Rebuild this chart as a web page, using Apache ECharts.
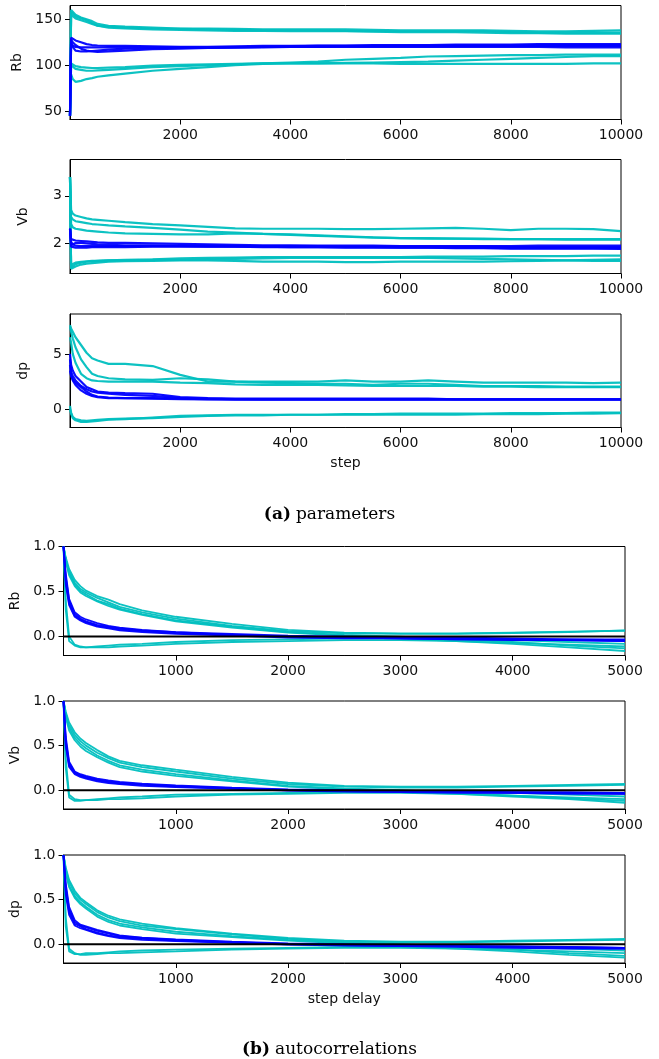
<!DOCTYPE html>
<html>
<head>
<meta charset="utf-8">
<script src="https://cdn.jsdelivr.net/npm/echarts@6/dist/echarts.min.js"></script>
<style>
html,body{margin:0;padding:0;background:#fff;}
#chart{width:659px;height:1059px;}
</style>
</head>
<body>
<div id="chart"></div>
<script>
// ---------- trace panels (a) ----------
const steps = [0,20,50,100,200,300,400,500,700,1000,1500,2000,2500,3000,3500,4000,4500,5000,5500,6000,6500,7000,7500,8000,8500,9000,9500,10000];
const stepTicks = [2000,4000,6000,8000,10000];

const rbCyan = [
  [45,160,158,155,152,150,148,145,143,142,141,140,140,139.5,139,139,139,139,138.5,138,138,138,138,137.5,137,137,137.5,138],
  [45,158,156,153,151,149,146,143,142,141,140,139.5,139,138.5,138,138,138,137.5,137,137,137,137,137,136,135.5,135.5,135.5,135.5],
  [45,155,153,151,149,147,145,143,141,140,139,138.5,138,137.5,137.5,137,137,137,136.5,136,136,136,135.5,135,135,134.5,134.5,134.5],
  [45,90,85,82,83,85,86,87.5,89,91,94,96,98,100,101.5,102,102,102,102,101.5,101.5,101.5,101.5,101.5,101.5,101.5,102,102],
  [45,100,98,96,95,94,94,94.5,95,96,98,99,100,101,102,103,104,106,107,108,109.5,110,110.5,111,111,111.5,111.5,111.5],
  [45,102,100,99,98,97.5,97,97,97.5,98,99.5,100.5,101,101.5,102,102,102,102.5,103,103.5,104,105,106,107,108,109,110,110]
];
const rbBlue = [
  [45,130,129,127,125,123,122,121.5,121,121,120.5,120,120,120.5,121,121,121.5,121.5,122,122,122,122.5,122.5,122.5,123,123,123,123],
  [45,128,125,122,118,116,115,114.5,115,116,117.5,118,119,119.5,120,120.5,121,121,121,121,121.5,121.5,121.5,121.5,122,122,122,122],
  [45,126,120,116,115,115,115.5,116,117,118,118.5,119,119,119.5,120,120,120,120.5,120.5,120.5,120.5,121,121,121,121,121,121,121],
  [45,122,121,120,119.5,119.5,119.5,119.5,119.5,119.5,119.5,119.5,119.5,119.5,119.5,120,120,120,120,120,120,120,120,120,120,119.5,119.5,119.5]
];

const vbCyan = [
  [3.4,2.7,2.62,2.58,2.55,2.52,2.5,2.49,2.47,2.44,2.4,2.37,2.34,2.31,2.3,2.3,2.3,2.29,2.29,2.3,2.31,2.32,2.3,2.27,2.3,2.3,2.29,2.25],
  [3.4,2.55,2.5,2.46,2.44,2.42,2.4,2.39,2.37,2.35,2.32,2.28,2.24,2.22,2.19,2.17,2.15,2.13,2.11,2.1,2.09,2.09,2.08,2.08,2.08,2.08,2.08,2.08],
  [3.4,2.4,2.33,2.3,2.28,2.26,2.25,2.24,2.22,2.2,2.19,2.18,2.18,2.2,2.19,2.18,2.16,2.14,2.12,2.1,2.1,2.09,2.09,2.08,2.08,2.07,2.07,2.07],
  [3.4,1.47,1.5,1.55,1.58,1.6,1.61,1.62,1.63,1.64,1.65,1.67,1.68,1.69,1.7,1.7,1.7,1.7,1.7,1.7,1.71,1.71,1.71,1.72,1.72,1.72,1.73,1.73],
  [3.4,1.45,1.47,1.5,1.54,1.56,1.57,1.58,1.6,1.61,1.62,1.63,1.63,1.62,1.6,1.6,1.6,1.59,1.59,1.6,1.6,1.6,1.6,1.61,1.62,1.63,1.64,1.65],
  [3.4,1.5,1.55,1.58,1.6,1.61,1.62,1.62,1.63,1.63,1.64,1.64,1.65,1.66,1.67,1.68,1.68,1.68,1.68,1.68,1.68,1.67,1.66,1.65,1.64,1.63,1.62,1.62]
];
const vbBlue = [
  [2.3,2.08,2.06,2.05,2.04,2.03,2.02,2.01,2.0,2.0,1.99,1.98,1.97,1.96,1.95,1.95,1.94,1.94,1.94,1.93,1.93,1.93,1.93,1.93,1.94,1.94,1.94,1.94],
  [2.3,1.95,1.98,2.0,2.0,1.99,1.98,1.97,1.96,1.95,1.95,1.94,1.94,1.93,1.93,1.93,1.93,1.92,1.92,1.92,1.92,1.92,1.92,1.91,1.91,1.91,1.91,1.91],
  [2.3,2.02,1.97,1.94,1.93,1.93,1.93,1.93,1.93,1.93,1.93,1.93,1.92,1.92,1.92,1.91,1.91,1.91,1.91,1.9,1.9,1.9,1.9,1.89,1.89,1.89,1.89,1.89],
  [2.3,1.92,1.91,1.9,1.9,1.9,1.91,1.91,1.91,1.91,1.92,1.92,1.92,1.92,1.91,1.91,1.91,1.9,1.9,1.9,1.9,1.89,1.89,1.88,1.88,1.88,1.88,1.87]
];

const dpCyan = [
  [7.6,7.3,7.0,6.5,5.8,5.1,4.6,4.4,4.1,4.1,3.9,3.1,2.5,2.5,2.5,2.5,2.5,2.6,2.5,2.5,2.6,2.5,2.4,2.4,2.4,2.4,2.35,2.4],
  [7.4,7.0,6.4,5.6,4.5,3.8,3.2,3.0,2.8,2.7,2.65,2.8,2.7,2.5,2.4,2.35,2.3,2.3,2.2,2.3,2.3,2.2,2.1,2.1,2.1,2.05,2.05,2.05],
  [6.5,6.0,5.0,4.2,3.2,2.8,2.6,2.55,2.5,2.5,2.5,2.4,2.35,2.25,2.2,2.2,2.2,2.15,2.1,2.1,2.1,2.1,2.05,2.05,2.0,2.0,2.0,2.0],
  [0.3,-0.3,-0.7,-0.9,-1.0,-1.05,-1.0,-0.95,-0.9,-0.85,-0.8,-0.7,-0.6,-0.55,-0.55,-0.5,-0.5,-0.5,-0.5,-0.5,-0.5,-0.5,-0.45,-0.45,-0.45,-0.4,-0.4,-0.35],
  [0.0,-0.4,-0.8,-1.0,-1.15,-1.15,-1.1,-1.05,-0.95,-0.9,-0.75,-0.6,-0.55,-0.5,-0.5,-0.5,-0.5,-0.45,-0.45,-0.4,-0.4,-0.4,-0.4,-0.35,-0.35,-0.35,-0.3,-0.3]
];
const dpBlue = [
  [5.0,4.0,3.5,3.0,2.5,2.0,1.8,1.6,1.5,1.45,1.4,1.1,1.0,0.95,0.95,0.95,0.95,0.95,0.95,0.95,0.95,0.9,0.9,0.9,0.9,0.9,0.9,0.9],
  [4.5,3.4,3.0,2.6,2.1,1.8,1.6,1.5,1.4,1.3,1.2,1.0,0.95,0.9,0.9,0.9,0.9,0.9,0.9,0.9,0.9,0.9,0.9,0.9,0.9,0.9,0.9,0.9],
  [4.0,3.1,2.6,2.2,1.7,1.4,1.2,1.1,1.0,1.0,1.0,0.95,0.9,0.9,0.88,0.88,0.88,0.88,0.88,0.88,0.88,0.88,0.88,0.88,0.88,0.88,0.88,0.88],
  [3.5,3.0,2.7,2.4,2.0,1.6,1.3,1.15,1.05,1.0,0.95,0.9,0.88,0.87,0.87,0.86,0.86,0.86,0.86,0.86,0.86,0.86,0.86,0.86,0.86,0.86,0.86,0.86]
];

// ---------- autocorrelation panels (b) ----------
const lags = [0,20,50,100,150,200,300,400,500,700,1000,1500,2000,2500,3000,3500,4000,4500,5000];
const lagTicks = [1000,2000,3000,4000,5000];
const acfTicks = [0.0,0.5,1.0];
const zeroLevel = [0,0];

const rbAcfCyan = [
  [1.0,0.88,0.75,0.63,0.56,0.51,0.45,0.41,0.36,0.29,0.22,0.14,0.075,0.045,0.035,0.035,0.045,0.055,0.065],
  [1.0,0.86,0.72,0.6,0.53,0.49,0.43,0.38,0.33,0.27,0.2,0.12,0.06,0.035,0.03,0.03,0.04,0.05,0.07],
  [1.0,0.85,0.7,0.58,0.51,0.47,0.4,0.36,0.31,0.25,0.18,0.11,0.05,0.02,0.0,-0.03,-0.06,-0.1,-0.13],
  [1.0,0.84,0.68,0.56,0.49,0.45,0.39,0.34,0.3,0.24,0.17,0.1,0.045,0.01,-0.02,-0.05,-0.08,-0.12,-0.16],
  [1.0,0.4,0.0,-0.09,-0.11,-0.12,-0.12,-0.12,-0.11,-0.1,-0.08,-0.06,-0.05,-0.04,-0.04,-0.05,-0.07,-0.09,-0.11],
  [1.0,0.3,-0.05,-0.1,-0.12,-0.12,-0.11,-0.1,-0.09,-0.08,-0.06,-0.04,-0.03,-0.02,-0.02,-0.03,-0.04,-0.06,-0.08]
];
const rbAcfBlue = [
  [1.0,0.7,0.42,0.27,0.22,0.19,0.15,0.12,0.1,0.075,0.05,0.03,0.01,0.0,-0.01,-0.01,-0.02,-0.03,-0.04],
  [1.0,0.66,0.4,0.25,0.2,0.17,0.13,0.11,0.09,0.07,0.05,0.02,0.0,-0.01,-0.02,-0.02,-0.03,-0.03,-0.03],
  [1.0,0.62,0.37,0.23,0.19,0.16,0.12,0.1,0.08,0.06,0.04,0.02,0.0,-0.01,-0.02,-0.03,-0.03,-0.04,-0.05],
  [1.0,0.58,0.35,0.22,0.18,0.15,0.11,0.09,0.07,0.05,0.03,0.01,-0.01,-0.02,-0.02,-0.03,-0.04,-0.04,-0.05]
];

const vbAcfCyan = [
  [1.0,0.88,0.76,0.65,0.58,0.53,0.45,0.38,0.33,0.28,0.23,0.15,0.085,0.05,0.04,0.04,0.05,0.06,0.07],
  [1.0,0.86,0.73,0.62,0.55,0.5,0.42,0.36,0.31,0.26,0.21,0.13,0.07,0.04,0.03,0.03,0.04,0.05,0.06],
  [1.0,0.84,0.7,0.59,0.52,0.47,0.39,0.33,0.28,0.23,0.18,0.11,0.05,0.02,0.0,-0.03,-0.06,-0.09,-0.12],
  [1.0,0.82,0.67,0.56,0.49,0.44,0.37,0.31,0.26,0.21,0.16,0.1,0.04,0.01,-0.02,-0.04,-0.07,-0.1,-0.14],
  [1.0,0.35,-0.05,-0.1,-0.11,-0.11,-0.11,-0.1,-0.1,-0.09,-0.07,-0.05,-0.04,-0.03,-0.03,-0.04,-0.06,-0.08,-0.1],
  [1.0,0.25,-0.08,-0.12,-0.12,-0.11,-0.1,-0.09,-0.08,-0.07,-0.05,-0.04,-0.03,-0.02,-0.02,-0.02,-0.03,-0.05,-0.07]
];
const vbAcfBlue = [
  [1.0,0.6,0.32,0.21,0.18,0.16,0.13,0.11,0.095,0.075,0.055,0.03,0.01,0.0,-0.01,-0.01,-0.02,-0.02,-0.03],
  [1.0,0.56,0.3,0.2,0.17,0.15,0.12,0.1,0.085,0.065,0.05,0.025,0.005,-0.005,-0.01,-0.02,-0.02,-0.03,-0.03],
  [1.0,0.52,0.28,0.19,0.16,0.14,0.11,0.09,0.075,0.06,0.04,0.02,0.0,-0.01,-0.02,-0.02,-0.03,-0.03,-0.04],
  [1.0,0.5,0.26,0.18,0.15,0.13,0.1,0.08,0.07,0.05,0.035,0.015,-0.005,-0.015,-0.02,-0.03,-0.03,-0.04,-0.04]
];

const dpAcfCyan = [
  [1.0,0.86,0.72,0.6,0.52,0.47,0.38,0.32,0.28,0.23,0.18,0.12,0.07,0.04,0.03,0.03,0.04,0.05,0.06],
  [1.0,0.84,0.7,0.57,0.5,0.45,0.36,0.3,0.26,0.21,0.17,0.11,0.06,0.03,0.02,0.02,0.03,0.04,0.05],
  [1.0,0.82,0.66,0.54,0.47,0.42,0.33,0.27,0.23,0.19,0.14,0.09,0.05,0.02,0.0,-0.03,-0.06,-0.1,-0.13],
  [1.0,0.8,0.64,0.52,0.45,0.4,0.31,0.25,0.21,0.17,0.12,0.08,0.04,0.01,-0.02,-0.05,-0.08,-0.12,-0.15],
  [1.0,0.3,-0.05,-0.1,-0.12,-0.12,-0.11,-0.1,-0.1,-0.09,-0.08,-0.06,-0.05,-0.04,-0.04,-0.05,-0.06,-0.08,-0.1],
  [1.0,0.2,-0.08,-0.11,-0.11,-0.1,-0.1,-0.09,-0.08,-0.07,-0.06,-0.05,-0.04,-0.03,-0.03,-0.03,-0.04,-0.05,-0.07]
];
const dpAcfBlue = [
  [1.0,0.68,0.42,0.27,0.22,0.2,0.16,0.13,0.1,0.075,0.055,0.03,0.01,0.0,-0.01,-0.02,-0.02,-0.03,-0.04],
  [1.0,0.64,0.39,0.25,0.21,0.19,0.15,0.12,0.09,0.07,0.05,0.025,0.005,-0.005,-0.01,-0.02,-0.03,-0.03,-0.04],
  [1.0,0.6,0.36,0.23,0.2,0.17,0.13,0.1,0.08,0.06,0.04,0.02,0.0,-0.01,-0.02,-0.02,-0.03,-0.04,-0.05],
  [1.0,0.56,0.33,0.21,0.18,0.16,0.12,0.09,0.07,0.05,0.035,0.015,-0.005,-0.015,-0.02,-0.03,-0.04,-0.05,-0.05]
];

// ---------- build ----------
const CYAN = '#00bfbf', BLUE = '#0000ff';
const FONT = 'DejaVu Sans';
const panels = [
  {name:'Rb', xs:steps, cyan:rbCyan, blue:rbBlue, xmin:0, xmax:10000, xt:stepTicks, ymin:41, ymax:165, yt:[50,100,150], dec:0, left:70, width:551, top:5.5, height:114, gap:40, lw:2.2},
  {name:'Vb', xs:steps, cyan:vbCyan, blue:vbBlue, xmin:0, xmax:10000, xt:stepTicks, ymin:1.35, ymax:3.77, yt:[2,3], dec:0, left:70, width:551, top:159.5, height:114, gap:40, lw:2.2},
  {name:'dp', xs:steps, cyan:dpCyan, blue:dpBlue, xmin:0, xmax:10000, xt:stepTicks, ymin:-1.65, ymax:8.6, yt:[0,5], dec:0, left:70, width:551, top:314, height:113.5, gap:40, lw:2.2, xname:'step'},
  {name:'Rb', xs:lags, cyan:rbAcfCyan, blue:rbAcfBlue, xmin:0, xmax:5000, xt:lagTicks, ymin:-0.21, ymax:1.0, yt:acfTicks, dec:1, left:63.5, width:561.5, top:546.5, height:109, gap:35, lw:1.8, zero:true},
  {name:'Vb', xs:lags, cyan:vbAcfCyan, blue:vbAcfBlue, xmin:0, xmax:5000, xt:lagTicks, ymin:-0.21, ymax:1.0, yt:acfTicks, dec:1, left:63.5, width:561.5, top:701, height:108, gap:35, lw:1.8, zero:true},
  {name:'dp', xs:lags, cyan:dpAcfCyan, blue:dpAcfBlue, xmin:0, xmax:5000, xt:lagTicks, ymin:-0.21, ymax:1.0, yt:acfTicks, dec:1, left:63.5, width:561.5, top:855, height:108, gap:35, lw:1.8, zero:true, xname:'step delay'}
];

const grid = [], xAxis = [], yAxis = [], series = [];
const labelStyle = {fontFamily: FONT, fontSize: 14, color: '#111'};
panels.forEach((p, i) => {
  grid.push({left:p.left, top:p.top, width:p.width, height:p.height, show:true, borderColor:'#000', borderWidth:1, containLabel:false});
  xAxis.push({
    type:'value', gridIndex:i, min:p.xmin, max:p.xmax,
    name: p.xname || '', nameLocation:'middle', nameGap:29,
    nameTextStyle:{fontFamily:FONT, fontSize:14, color:'#111'},
    axisLine:{show:true, onZero:false, lineStyle:{color:'#000', width:1}},
    axisTick:{show:true, length:5, lineStyle:{color:'#000', width:1}, customValues:p.xt},
    axisLabel:Object.assign({margin:9, customValues:p.xt, formatter:v => String(v)}, labelStyle),
    splitLine:{show:false}
  });
  yAxis.push({
    type:'value', gridIndex:i, min:p.ymin, max:p.ymax,
    name:p.name, nameLocation:'middle', nameGap:p.gap,
    nameTextStyle:{fontFamily:FONT, fontSize:14, color:'#111'},
    axisLine:{show:true, onZero:false, lineStyle:{color:'#000', width:1}},
    axisTick:{show:true, length:5, lineStyle:{color:'#000', width:1}, customValues:p.yt},
    axisLabel:Object.assign({margin:8, customValues:p.yt, formatter:v => Number(v).toFixed(p.dec)}, labelStyle),
    splitLine:{show:false}
  });
  const mk = (ys, color, w) => ({
    type:'line', xAxisIndex:i, yAxisIndex:i, symbol:'none', silent:true, animation:false,
    data: p.xs.map((x, k) => [x, ys[k]]),
    lineStyle:{color:color, width:w, opacity:0.95}
  });
  p.cyan.forEach(ys => series.push(mk(ys, CYAN, p.lw)));
  p.blue.forEach(ys => series.push(mk(ys, BLUE, p.lw)));
  if (p.zero) {
    series.push({
      type:'line', xAxisIndex:i, yAxisIndex:i, symbol:'none', silent:true, animation:false,
      data:[[p.xmin, zeroLevel[0]], [p.xmax, zeroLevel[1]]],
      lineStyle:{color:'#000', width:2}
    });
  }
});

const capRich = {
  b:{fontFamily:'DejaVu Serif', fontSize:17, fontWeight:'bold', color:'#000'},
  n:{fontFamily:'DejaVu Serif', fontSize:17, fontWeight:'normal', color:'#000'}
};
const option = {
  animation:false,
  backgroundColor:'#fff',
  title:[
    {text:'{b|(a)} {n|parameters}', left:'center', top:501, textStyle:{fontWeight:'normal', rich:capRich}},
    {text:'{b|(b)} {n|autocorrelations}', left:'center', top:1036, textStyle:{fontWeight:'normal', rich:capRich}}
  ],
  grid, xAxis, yAxis, series
};
const chart = echarts.init(document.getElementById('chart'), null, {renderer:'canvas'});
chart.setOption(option);
</script>
</body>
</html>
